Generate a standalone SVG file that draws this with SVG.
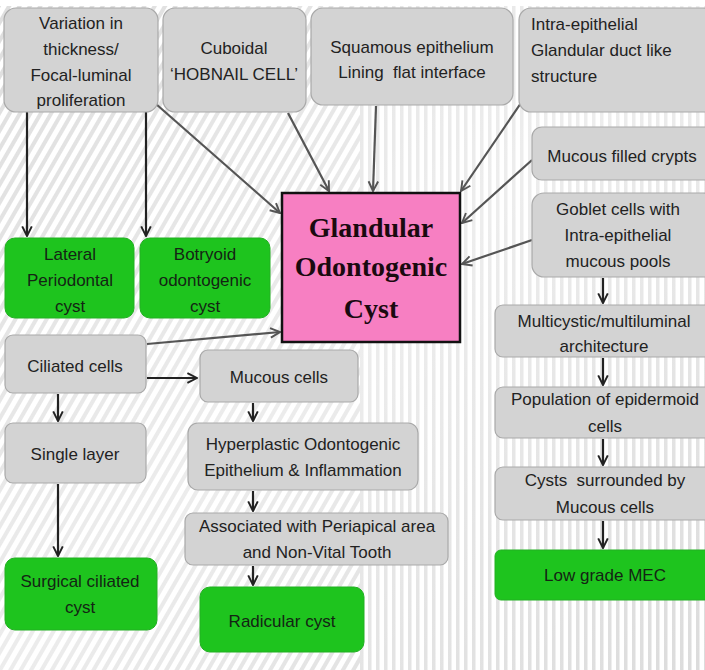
<svg xmlns="http://www.w3.org/2000/svg" width="705" height="670" viewBox="0 0 705 670">
<defs>
<pattern id="diag" width="9" height="9" patternUnits="userSpaceOnUse" patternTransform="rotate(30)">
<rect width="9" height="9" fill="#ffffff"/>
<rect width="4" height="9" fill="#d6d6d6"/>
</pattern>
<pattern id="vert" width="8" height="8" patternUnits="userSpaceOnUse">
<rect width="8" height="8" fill="#ffffff"/>
<rect width="3.5" height="8" fill="#d8d8d8"/>
</pattern>
<linearGradient id="fadeL" x1="0" y1="0" x2="1" y2="1">
<stop offset="0" stop-color="#fff" stop-opacity="0.2"/>
<stop offset="0.5" stop-color="#fff" stop-opacity="0.55"/>
<stop offset="1" stop-color="#fff" stop-opacity="0.1"/>
</linearGradient>
<marker id="ahd" viewBox="0 0 10 10" refX="9" refY="5" markerWidth="12" markerHeight="12" markerUnits="userSpaceOnUse" orient="auto">
<path d="M1,1 L9,5 L1,9" fill="none" stroke="#555" stroke-width="1.6"/>
</marker>
<marker id="ahk" viewBox="0 0 10 10" refX="9" refY="5" markerWidth="12" markerHeight="12" markerUnits="userSpaceOnUse" orient="auto">
<path d="M1,1 L9,5 L1,9" fill="none" stroke="#222" stroke-width="1.6"/>
</marker>
</defs>
<style>
.g{fill:#d3d3d3;stroke:#a9a9a9;stroke-width:1.2}
.gr{fill:#1ec41e;stroke:#22b022;stroke-width:1}
.t{font-family:"Liberation Sans Narrow","Liberation Sans",Arial,sans-serif;font-size:17px;fill:#222;text-anchor:middle;white-space:pre}
.tl{text-anchor:start}
.tg{fill:#142414}
.c1{fill:none;stroke:#555;stroke-width:2.2;marker-end:url(#ahd)}
.c2{fill:none;stroke:#222;stroke-width:2.2;marker-end:url(#ahk)}
.title{font-family:"Liberation Serif","Times New Roman",serif;font-weight:bold;font-size:28px;fill:#1a0a10;text-anchor:middle}
</style>
<rect width="705" height="670" fill="#ffffff"/>
<rect x="0" y="0" width="360" height="670" fill="url(#diag)"/>
<rect x="360" y="0" width="345" height="670" fill="url(#vert)"/>
<rect x="0" y="0" width="705" height="670" fill="url(#fadeL)"/>
<rect x="0" y="0" width="705" height="6" fill="#ffffff"/>

<g id="connectors">
<line class="c2" x1="27" y1="112" x2="27" y2="236"/>
<line class="c2" x1="146" y1="112" x2="146" y2="236"/>
<line class="c1" x1="156" y1="104" x2="280" y2="213"/>
<line class="c1" x1="288" y1="113" x2="329" y2="191"/>
<line class="c1" x1="376" y1="106" x2="373" y2="191"/>
<line class="c1" x1="523" y1="100" x2="461" y2="191"/>
<line class="c1" x1="532" y1="160" x2="462" y2="223"/>
<line class="c1" x1="532" y1="240" x2="462" y2="264"/>
<line class="c1" x1="147" y1="344" x2="280" y2="332"/>
<line class="c2" x1="147" y1="378" x2="197" y2="378"/>
<line class="c2" x1="58" y1="394" x2="58" y2="421"/>
<line class="c2" x1="58" y1="484" x2="58" y2="556"/>
<line class="c2" x1="253" y1="403" x2="253" y2="421"/>
<line class="c2" x1="253" y1="491" x2="253" y2="511"/>
<line class="c2" x1="253" y1="566" x2="253" y2="585"/>
<line class="c2" x1="603" y1="278" x2="603" y2="303"/>
<line class="c2" x1="603" y1="358" x2="603" y2="385"/>
<line class="c2" x1="603" y1="439" x2="603" y2="465"/>
<line class="c2" x1="603" y1="521" x2="603" y2="548"/>
</g>

<g id="n-variation">
<rect class="g" x="4" y="8" width="154" height="104" rx="12"/>
<text class="t" x="81" y="29">Variation in</text>
<text class="t" x="81" y="55">thickness/</text>
<text class="t" x="81" y="81">Focal-luminal</text>
<text class="t" x="81" y="106">proliferation</text>
</g>
<g id="n-cuboidal">
<rect class="g" x="163" y="8" width="143" height="104" rx="12"/>
<text class="t" x="234" y="54">Cuboidal</text>
<text class="t" x="234" y="80">‘HOBNAIL CELL’</text>
</g>
<g id="n-squamous">
<rect class="g" x="311" y="8" width="202" height="97" rx="12"/>
<text class="t" x="412" y="53">Squamous epithelium</text>
<text class="t" x="412" y="78">Lining  flat interface</text>
</g>
<g id="n-intra">
<rect class="g" x="519" y="8" width="196" height="104" rx="12"/>
<text class="t tl" x="531" y="30">Intra-epithelial</text>
<text class="t tl" x="531" y="56">Glandular duct like</text>
<text class="t tl" x="531" y="82">structure</text>
</g>
<g id="n-crypts">
<rect class="g" x="532" y="127" width="183" height="53" rx="10"/>
<text class="t" x="622" y="162">Mucous filled crypts</text>
</g>
<g id="n-goblet">
<rect class="g" x="532" y="193" width="183" height="84" rx="12"/>
<text class="t" x="618" y="215">Goblet cells with</text>
<text class="t" x="618" y="241">Intra-epithelial</text>
<text class="t" x="618" y="267">mucous pools</text>
</g>
<g id="n-gocyst">
<rect x="282" y="193" width="178" height="149" fill="#f77fc2" stroke="#111" stroke-width="2.5"/>
<text class="title" x="371" y="237">Glandular</text>
<text class="title" x="371" y="276">Odontogenic</text>
<text class="title" x="371" y="318">Cyst</text>
</g>
<g id="n-multicystic">
<rect class="g" x="495" y="305" width="220" height="52" rx="8"/>
<text class="t" x="604" y="327">Multicystic/multiluminal</text>
<text class="t" x="604" y="352">architecture</text>
</g>
<g id="n-population">
<rect class="g" x="495" y="387" width="220" height="51" rx="8"/>
<text class="t" x="605" y="405">Population of epidermoid</text>
<text class="t" x="605" y="432">cells</text>
</g>
<g id="n-cysts">
<rect class="g" x="495" y="467" width="220" height="53" rx="8"/>
<text class="t" x="605" y="486">Cysts  surrounded by</text>
<text class="t" x="605" y="513">Mucous cells</text>
</g>
<g id="n-mec">
<rect class="gr" x="495" y="550" width="220" height="50" rx="6"/>
<text class="t tg" x="605" y="581">Low grade MEC</text>
</g>
<g id="n-lateral">
<rect class="gr" x="5" y="238" width="129" height="80" rx="10"/>
<text class="t tg" x="70" y="260">Lateral</text>
<text class="t tg" x="70" y="286">Periodontal</text>
<text class="t tg" x="70" y="312">cyst</text>
</g>
<g id="n-botryoid">
<rect class="gr" x="140" y="238" width="130" height="80" rx="10"/>
<text class="t tg" x="205" y="260">Botryoid</text>
<text class="t tg" x="205" y="286">odontogenic</text>
<text class="t tg" x="205" y="312">cyst</text>
</g>
<g id="n-ciliated">
<rect class="g" x="5" y="335" width="141" height="58" rx="8"/>
<text class="t" x="75" y="372">Ciliated cells</text>
</g>
<g id="n-mucous">
<rect class="g" x="200" y="350" width="158" height="52" rx="8"/>
<text class="t" x="279" y="383">Mucous cells</text>
</g>
<g id="n-single">
<rect class="g" x="5" y="423" width="141" height="60" rx="8"/>
<text class="t" x="75" y="460">Single layer</text>
</g>
<g id="n-surgical">
<rect class="gr" x="5" y="558" width="152" height="72" rx="10"/>
<text class="t tg" x="80" y="587">Surgical ciliated</text>
<text class="t tg" x="80" y="613">cyst</text>
</g>
<g id="n-hyperplastic">
<rect class="g" x="188" y="423" width="230" height="67" rx="10"/>
<text class="t" x="303" y="450">Hyperplastic Odontogenic</text>
<text class="t" x="303" y="476">Epithelium &amp; Inflammation</text>
</g>
<g id="n-associated">
<rect class="g" x="185" y="513" width="263" height="52" rx="8"/>
<text class="t" x="317" y="532">Associated with Periapical area</text>
<text class="t" x="317" y="558">and Non-Vital Tooth</text>
</g>
<g id="n-radicular">
<rect class="gr" x="200" y="587" width="164" height="65" rx="10"/>
<text class="t tg" x="282" y="627">Radicular cyst</text>
</g>
</svg>
